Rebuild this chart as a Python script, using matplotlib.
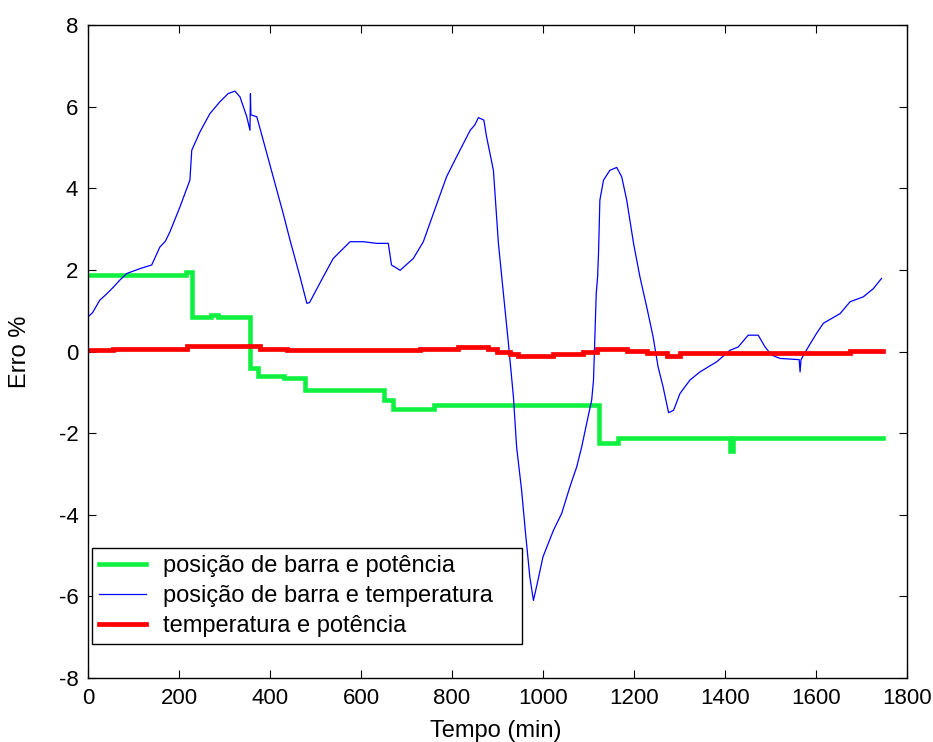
import matplotlib
matplotlib.use("Agg")
import matplotlib.pyplot as plt

# Green: posição de barra e potência (steps)
green_t = [0, 215, 228, 270, 285, 357, 374, 430, 477, 650, 671, 760, 1122, 1165,
           1412, 1417, 1747]
green_v = [1.87, 1.95, 0.85, 0.9, 0.85, -0.4, -0.6, -0.65, -0.95, -1.2, -1.41, -1.3,
           -2.25, -2.13, -2.45, -2.13, -2.13]

# Blue: posição de barra e temperatura
blue_t = [0, 10, 26, 40, 56, 70, 85, 114, 140, 158, 170, 180, 202, 224, 228, 246, 268,
          290, 308, 323, 334, 349, 356, 357, 358, 371, 385, 407, 429, 444, 466, 481,
          487, 517, 539, 576, 605, 634, 660, 667, 686, 715, 737, 759, 788, 810, 840,
          850, 858, 870, 876, 891, 902, 913, 924, 935, 942, 953, 961, 971, 979, 989,
          1000, 1023, 1041, 1059, 1074, 1085, 1096, 1107, 1111, 1117, 1120, 1122, 1125,
          1133, 1147, 1162, 1173, 1184, 1199, 1213, 1228, 1242, 1253, 1264, 1276, 1287,
          1301, 1323, 1345, 1382, 1411, 1429, 1451, 1473, 1488, 1503, 1521, 1563, 1565,
          1567, 1583, 1601, 1616, 1653, 1675, 1704, 1726, 1744]
blue_v = [0.85, 0.95, 1.26, 1.4, 1.58, 1.75, 1.91, 2.03, 2.12, 2.56, 2.7, 2.93, 3.54,
          4.2, 4.93, 5.38, 5.83, 6.12, 6.32, 6.38, 6.24, 5.75, 5.42, 6.32, 5.8, 5.75,
          5.18, 4.28, 3.38, 2.73, 1.83, 1.18, 1.2, 1.83, 2.28, 2.69, 2.69, 2.65, 2.65,
          2.12, 1.99, 2.28, 2.69, 3.38, 4.28, 4.77, 5.42, 5.55, 5.73, 5.67, 5.26, 4.44,
          2.65, 1.42, 0.2, -1.11, -2.34, -3.4, -4.38, -5.52, -6.1, -5.6, -5.03, -4.38,
          -3.97, -3.32, -2.83, -2.34, -1.76, -1.19, -0.7, 1.42, 1.83, 2.4, 3.71, 4.2,
          4.44, 4.51, 4.28, 3.71, 2.65, 1.83, 1.09, 0.36, -0.38, -0.87, -1.5, -1.44,
          -1.03, -0.7, -0.5, -0.25, 0.03, 0.11, 0.4, 0.4, 0.11, -0.09, -0.17, -0.2, -0.5,
          -0.2, 0.11, 0.44, 0.69, 0.93, 1.22, 1.34, 1.54, 1.79]

# Red: temperatura e potência (steps)
red_t = [0, 55, 217, 378, 437, 730, 813, 879, 898, 927, 945, 1022, 1088, 1118, 1184,
         1228, 1272, 1301, 1675, 1747]
red_v = [0.03, 0.07, 0.13, 0.07, 0.03, 0.07, 0.12, 0.05, 0.0, -0.05, -0.12, -0.07,
         -0.01, 0.07, 0.02, -0.04, -0.1, -0.03, 0.01, 0.01]

labels = ["posição de barra e potência",
          "posição de barra e temperatura",
          "temperatura e potência"]

x_ticks = [0, 200, 400, 600, 800, 1000, 1200, 1400, 1600, 1800]
y_ticks = [-8, -6, -4, -2, 0, 2, 4, 6, 8]


def main():
    plt.rcParams["font.family"] = ["Liberation Sans", "DejaVu Sans"]
    plt.rcParams["axes.unicode_minus"] = False

    fig = plt.figure(figsize=(9.33, 7.42), dpi=100)
    ax = fig.add_axes([88 / 933, 64 / 742, 819 / 933, 653 / 742])

    ax.plot(green_t, green_v, color="#10f040", lw=3.3, drawstyle="steps-post",
            label=labels[0], solid_joinstyle="miter")
    ax.plot(blue_t, blue_v, color="#0000ff", lw=0.9, label=labels[1])
    ax.plot(red_t, red_v, color="#ff0000", lw=3.4, drawstyle="steps-post",
            label=labels[2], solid_joinstyle="miter")

    ax.set_xlim(0, 1800)
    ax.set_ylim(-8, 8)
    ax.set_xticks(x_ticks)
    ax.set_yticks(y_ticks)
    ax.tick_params(direction="in", length=6, width=0.8, top=True, right=True,
                   labelsize=16, pad=7)
    for s in ax.spines.values():
        s.set_linewidth(1.0)

    ax.set_xlabel("Tempo (min)", fontsize=17)
    ax.set_ylabel("Erro %", fontsize=17)
    ax.xaxis.set_label_coords(0.498, -0.064)
    ax.yaxis.set_label_coords(-0.07, 0.5)

    leg = ax.legend(loc="lower left", bbox_to_anchor=(0.0045, 0.052, 0.525, 0.1),
                    mode="expand", borderaxespad=0, fontsize=17, fancybox=False,
                    framealpha=1, edgecolor="black", handlelength=2.0,
                    handletextpad=0.7, labelspacing=0.33, borderpad=0.3)
    leg.get_frame().set_linewidth(1.0)

    fig.savefig("out.png", dpi=100)


if __name__ == "__main__":
    main()
